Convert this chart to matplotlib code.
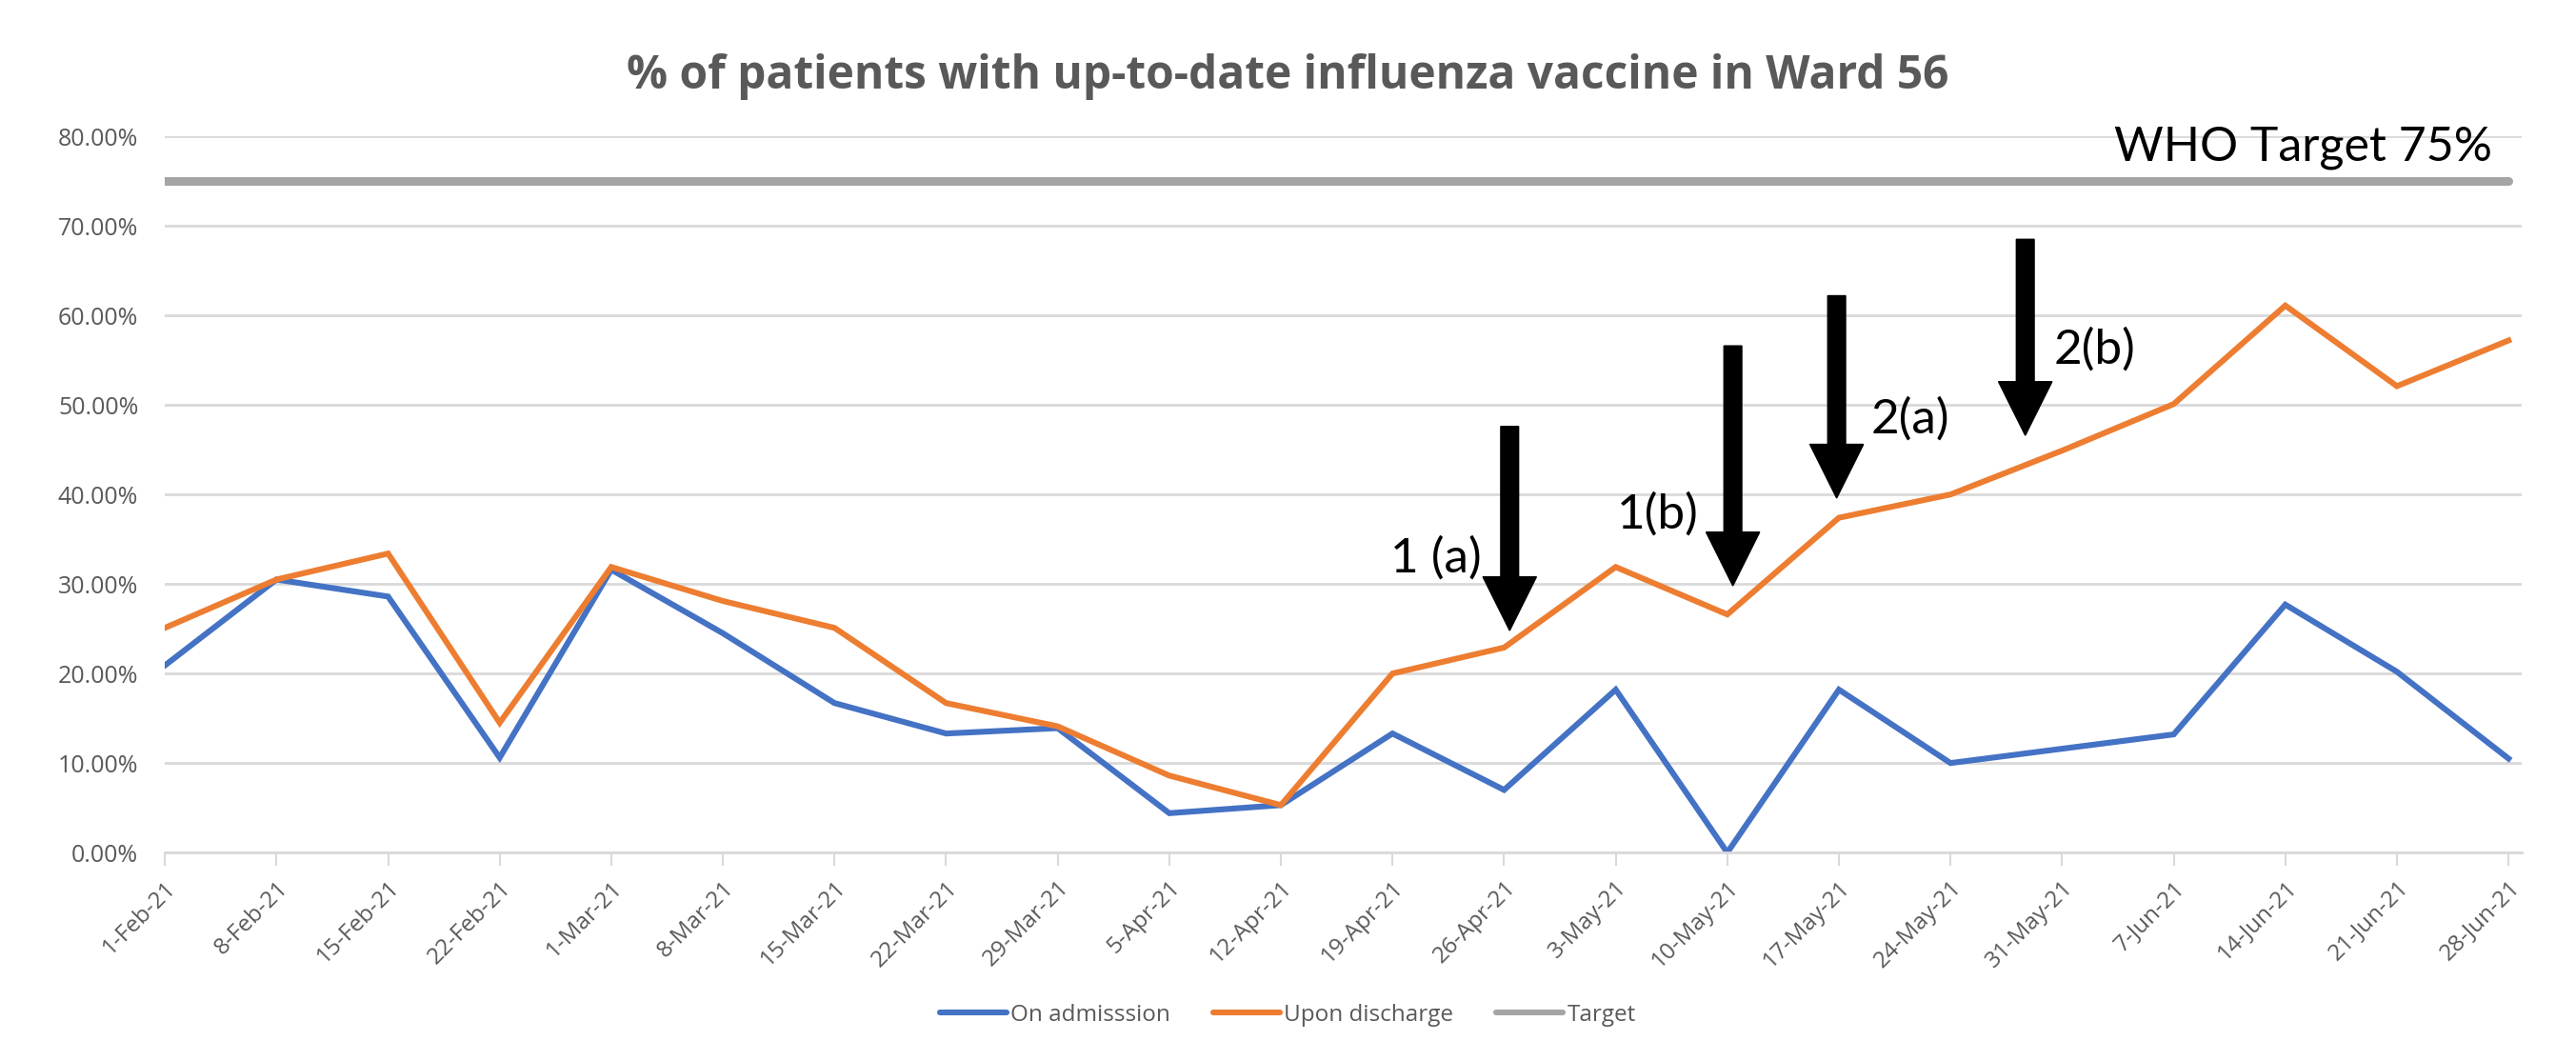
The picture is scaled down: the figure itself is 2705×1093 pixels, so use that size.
import matplotlib
matplotlib.use('Agg')
import matplotlib.pyplot as plt
from matplotlib.ticker import FuncFormatter

dates = ['1-Feb-21', '8-Feb-21', '15-Feb-21', '22-Feb-21', '1-Mar-21', '8-Mar-21',
         '15-Mar-21', '22-Mar-21', '29-Mar-21', '5-Apr-21', '12-Apr-21', '19-Apr-21',
         '26-Apr-21', '3-May-21', '10-May-21', '17-May-21', '24-May-21', '31-May-21',
         '7-Jun-21', '14-Jun-21', '21-Jun-21', '28-Jun-21']
on_admission = [20.9, 30.5, 28.6, 10.6, 31.6, 24.5, 16.7, 13.3, 13.9, 4.4, 5.3,
                13.3, 7.0, 18.2, 0.0, 18.2, 10.0, 11.6, 13.2, 27.7, 20.2, 10.5]
upon_discharge = [25.1, 30.5, 33.4, 14.5, 31.9, 28.1, 25.1, 16.7, 14.1, 8.6, 5.3,
                  20.0, 22.9, 31.9, 26.6, 37.4, 40.0, 44.9, 50.1, 61.1, 52.1, 57.2]
target = [75.0] * len(dates)

# intervention arrows: label, x position (week index), arrow top, arrow tip, label x, label y
arrow_labels = ['1 (a)', '1(b)', '2(a)', '2(b)']
arrow_x = [12.05, 14.05, 14.98, 16.67]
arrow_top = [47.6, 56.6, 62.2, 68.5]
arrow_tip = [24.8, 29.8, 39.6, 46.6]
label_x = [11.39, 13.38, 15.64, 17.29]
label_y = [32.9, 37.8, 48.4, 56.2]

BLUE = '#4472c4'
ORANGE = '#ed7d31'
GREY = '#a5a5a5'
TXT = '#595959'

plt.rcParams['font.family'] = ['Open Sans', 'DejaVu Sans']

fig = plt.figure(figsize=(27.05, 10.93), dpi=100)
ax = fig.add_axes([0.064, 0.181, 0.915, 0.688])

x = list(range(len(dates)))
ax.plot(x, on_admission, color=BLUE, lw=4.4, label='On admisssion', solid_joinstyle='miter')
ax.plot(x, upon_discharge, color=ORANGE, lw=4.4, label='Upon discharge', solid_joinstyle='miter')
ax.plot(x, target, color=GREY, lw=6.5, label='Target', solid_capstyle='round')

for i in range(len(arrow_labels)):
    ax.arrow(arrow_x[i], arrow_top[i], 0, arrow_tip[i] - arrow_top[i], width=0.16,
             head_width=0.48, head_length=6.0, length_includes_head=True,
             color='black', zorder=5)
    ax.text(label_x[i], label_y[i], arrow_labels[i], fontsize=37, color='black',
            ha='center', va='center', family=['Lato', 'DejaVu Sans'])

ax.text(20.85, 78.7, 'WHO Target 75%', fontsize=36, color='black', ha='right',
        va='center', family=['Lato', 'DejaVu Sans'])

ax.set_xlim(0, 21.12)
ax.set_ylim(0, 80)
ax.set_yticks(range(0, 81, 10))
ax.yaxis.set_major_formatter(FuncFormatter(lambda v, p: f'{v:.2f}%'))
ax.set_xticks(x)
ax.set_xticklabels(dates, rotation=45, ha='right', rotation_mode='anchor')
ax.grid(axis='y', color='#d9d9d9', lw=2)
ax.set_axisbelow(True)
for s in ['top', 'right', 'left']:
    ax.spines[s].set_visible(False)
ax.spines['bottom'].set_color('#d9d9d9')
ax.spines['bottom'].set_linewidth(2)
ax.tick_params(axis='y', length=0, labelsize=18, labelcolor=TXT, pad=20)
ax.tick_params(axis='x', length=10, width=1.5, color='#d9d9d9', labelsize=17.5,
               labelcolor=TXT, pad=8)

fig.text(0.5, 0.926, '% of patients with up-to-date influenza vaccine in Ward 56',
         fontsize=34.5, fontweight='bold', color=TXT, ha='center', va='center')

leg = fig.legend(loc='center', bbox_to_anchor=(0.5, 0.025), ncol=3, frameon=False,
                 fontsize=17.5, handlelength=2.85, handletextpad=0.2,
                 columnspacing=1.85, labelcolor=TXT)
for h in leg.get_lines():
    h.set_linewidth(4.4)
    h.set_solid_capstyle('round')

fig.savefig('out.png', dpi=100, facecolor='white')
